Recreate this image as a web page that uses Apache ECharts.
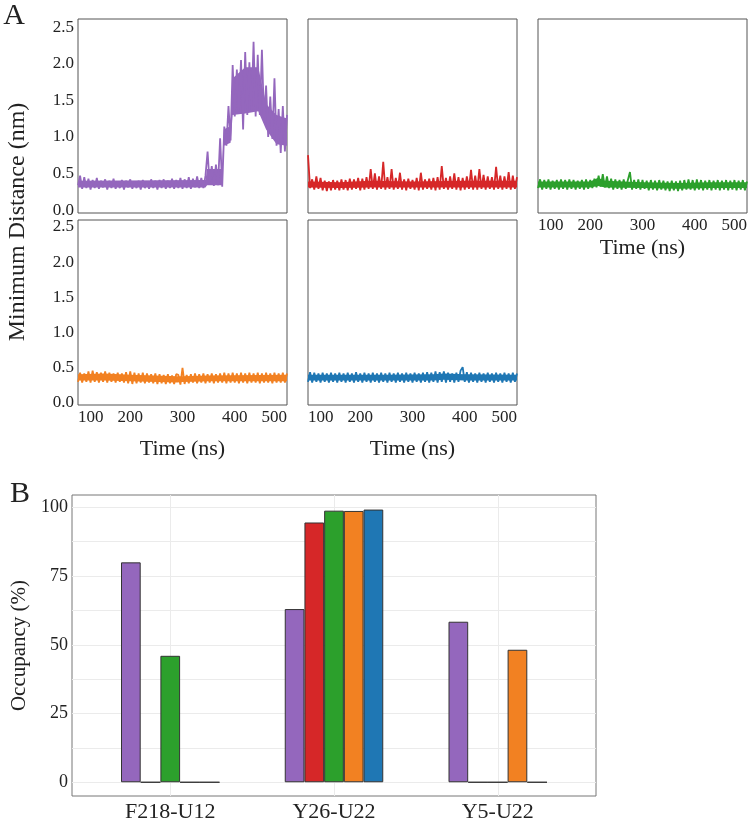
<!DOCTYPE html>
<html>
<head>
<meta charset="utf-8">
<script src="https://cdn.jsdelivr.net/npm/echarts@6/dist/echarts.min.js"></script>
<style>
html,body{margin:0;padding:0;background:#fff;}
#main{width:750px;height:823px;}
</style>
</head>
<body>
<div id="main"></div>
<script>
var FONT = '"Liberation Serif", "DejaVu Serif", serif';

// time axis: 100 - 500 ns, one point every 4 ns
var timeStart = 100, timeStep = 4;
var timeTicks = [100, 200, 300, 400, 500];
var distTicks = [0, 0.5, 1.0, 1.5, 2.0, 2.5];

// minimum distance (nm) (upper / lower edge of the noise)
var distPurple = [
    0.34, 0.47, 0.29, 0.45, 0.30, 0.43, 0.28, 0.41, 0.30, 0.44,
    0.29, 0.40, 0.31, 0.42, 0.28, 0.40, 0.30, 0.43, 0.29, 0.39,
    0.30, 0.41, 0.28, 0.40, 0.31, 0.42, 0.29, 0.39, 0.30, 0.40,
    0.28, 0.41, 0.30, 0.39, 0.29, 0.42, 0.30, 0.40, 0.28, 0.41,
    0.30, 0.42, 0.29, 0.40, 0.30, 0.43, 0.29, 0.41, 0.30, 0.44,
    0.29, 0.42, 0.30, 0.45, 0.29, 0.43, 0.31, 0.46, 0.30, 0.44,
    0.30, 0.47, 0.80, 0.36, 0.60, 0.33, 0.62, 0.34, 0.98, 0.32,
    1.14, 0.88, 1.42, 0.95, 1.98, 1.28, 1.92, 1.35, 2.05, 1.10,
    2.16, 1.30, 2.02, 1.35, 2.30, 1.28, 2.12, 1.30, 2.19, 1.25,
    1.70, 1.00, 1.55, 0.97, 1.80, 0.88, 1.38, 0.78, 1.42, 0.80, 1.30
];
var distRed = [
    0.75, 0.30, 0.42, 0.28, 0.46, 0.29, 0.44, 0.27, 0.40, 0.26,
    0.39, 0.27, 0.41, 0.28, 0.40, 0.27, 0.42, 0.28, 0.41, 0.27,
    0.43, 0.28, 0.42, 0.29, 0.44, 0.27, 0.43, 0.28, 0.45, 0.29,
    0.56, 0.29, 0.50, 0.28, 0.46, 0.29, 0.66, 0.28, 0.45, 0.29,
    0.56, 0.28, 0.44, 0.29, 0.51, 0.28, 0.42, 0.27, 0.43, 0.29,
    0.41, 0.28, 0.44, 0.27, 0.51, 0.28, 0.42, 0.29, 0.43, 0.28,
    0.44, 0.27, 0.45, 0.28, 0.60, 0.29, 0.44, 0.28, 0.46, 0.29,
    0.50, 0.28, 0.45, 0.27, 0.44, 0.28, 0.46, 0.29, 0.55, 0.28,
    0.47, 0.28, 0.56, 0.29, 0.48, 0.28, 0.46, 0.29, 0.45, 0.28,
    0.59, 0.29, 0.47, 0.28, 0.46, 0.29, 0.52, 0.28, 0.47, 0.29, 0.45
];
var distGreen = [
    0.30, 0.42, 0.28, 0.41, 0.29, 0.42, 0.28, 0.40, 0.29, 0.41,
    0.28, 0.42, 0.29, 0.41, 0.28, 0.42, 0.29, 0.41, 0.28, 0.40,
    0.29, 0.41, 0.28, 0.42, 0.29, 0.41, 0.30, 0.43, 0.31, 0.47,
    0.32, 0.49, 0.31, 0.46, 0.30, 0.43, 0.28, 0.42, 0.29, 0.41,
    0.28, 0.42, 0.29, 0.41, 0.52, 0.28, 0.41, 0.29, 0.42, 0.28,
    0.41, 0.29, 0.40, 0.27, 0.41, 0.28, 0.40, 0.27, 0.41, 0.28,
    0.40, 0.27, 0.39, 0.26, 0.40, 0.27, 0.39, 0.26, 0.40, 0.27,
    0.41, 0.28, 0.42, 0.28, 0.41, 0.27, 0.42, 0.28, 0.41, 0.27,
    0.40, 0.28, 0.41, 0.27, 0.40, 0.28, 0.41, 0.27, 0.40, 0.28,
    0.41, 0.27, 0.40, 0.28, 0.41, 0.27, 0.40, 0.28, 0.41, 0.27, 0.39
];
var distOrange = [
    0.29, 0.42, 0.28, 0.41, 0.29, 0.44, 0.28, 0.45, 0.29, 0.43,
    0.28, 0.42, 0.29, 0.44, 0.28, 0.42, 0.29, 0.41, 0.28, 0.42,
    0.29, 0.41, 0.28, 0.43, 0.27, 0.44, 0.26, 0.42, 0.27, 0.41,
    0.28, 0.42, 0.27, 0.41, 0.28, 0.40, 0.27, 0.41, 0.26, 0.40,
    0.27, 0.39, 0.26, 0.40, 0.27, 0.38, 0.26, 0.40, 0.39, 0.25,
    0.49, 0.26, 0.39, 0.27, 0.40, 0.28, 0.41, 0.27, 0.40, 0.28,
    0.41, 0.27, 0.40, 0.28, 0.41, 0.27, 0.40, 0.28, 0.41, 0.28,
    0.42, 0.27, 0.41, 0.28, 0.42, 0.28, 0.41, 0.27, 0.42, 0.28,
    0.41, 0.27, 0.42, 0.28, 0.41, 0.28, 0.42, 0.27, 0.41, 0.28,
    0.42, 0.28, 0.41, 0.27, 0.42, 0.28, 0.41, 0.28, 0.42, 0.28, 0.41
];
var distBlue = [
    0.29, 0.43, 0.28, 0.42, 0.29, 0.41, 0.28, 0.42, 0.29, 0.41,
    0.28, 0.42, 0.29, 0.41, 0.28, 0.42, 0.29, 0.41, 0.28, 0.42,
    0.29, 0.41, 0.28, 0.43, 0.29, 0.41, 0.28, 0.42, 0.29, 0.41,
    0.28, 0.42, 0.29, 0.41, 0.28, 0.42, 0.29, 0.41, 0.28, 0.42,
    0.29, 0.41, 0.28, 0.42, 0.29, 0.41, 0.28, 0.42, 0.29, 0.41,
    0.28, 0.42, 0.29, 0.41, 0.28, 0.42, 0.29, 0.43, 0.28, 0.42,
    0.29, 0.44, 0.28, 0.43, 0.29, 0.44, 0.28, 0.42, 0.29, 0.41,
    0.28, 0.42, 0.29, 0.45, 0.50, 0.29, 0.43, 0.28, 0.42, 0.29,
    0.41, 0.28, 0.42, 0.29, 0.41, 0.28, 0.42, 0.29, 0.41, 0.28,
    0.42, 0.29, 0.41, 0.28, 0.42, 0.29, 0.41, 0.28, 0.42, 0.29, 0.41
];

// dense core of each noisy trace: times (ns), lower and upper value (nm)
var corePurpleT  = [100, 344, 347, 376, 379, 392, 396, 420, 445, 460, 480, 500];
var corePurpleLo = [0.31, 0.31, 0.34, 0.34, 0.88, 0.92, 1.30, 1.32, 1.35, 1.10, 0.90, 0.88];
var corePurpleHi = [0.40, 0.41, 0.56, 0.56, 1.10, 1.15, 1.80, 1.95, 1.95, 1.45, 1.30, 1.25];
var coreRedT  = [100, 160, 220, 300, 400, 500];
var coreRedLo = [0.31, 0.30, 0.31, 0.31, 0.31, 0.31];
var coreRedHi = [0.39, 0.38, 0.40, 0.39, 0.40, 0.40];
var coreGreenT  = [100, 200, 215, 228, 300, 370, 430, 500];
var coreGreenLo = [0.31, 0.31, 0.33, 0.31, 0.30, 0.29, 0.30, 0.30];
var coreGreenHi = [0.39, 0.39, 0.44, 0.40, 0.38, 0.37, 0.38, 0.38];
var coreOrangeT  = [100, 150, 200, 290, 300, 350, 500];
var coreOrangeLo = [0.31, 0.31, 0.30, 0.28, 0.29, 0.30, 0.30];
var coreOrangeHi = [0.40, 0.41, 0.39, 0.37, 0.37, 0.38, 0.39];
var coreBlueT  = [100, 250, 340, 360, 400, 500];
var coreBlueLo = [0.31, 0.31, 0.31, 0.32, 0.31, 0.31];
var coreBlueHi = [0.39, 0.39, 0.40, 0.41, 0.40, 0.39];

// occupancy (%)
var barCategories = ['F218-U12', 'Y26-U22', 'Y5-U22'];
var occPurple = [80, 63, 58.4];
var occRed    = [0, 94.5, 0];
var occGreen  = [46, 98.8, 0];
var occOrange = [0, 98.7, 48.2];
var occBlue   = [0, 99.2, 0];
var occTicks = [0, 25, 50, 75, 100];
var occGridTicks = [0, 12.5, 25, 37.5, 50, 62.5, 75, 87.5, 100];

var C_PURPLE = '#9467bd', C_RED = '#d62728', C_GREEN = '#2ca02c', C_ORANGE = '#f28122', C_BLUE = '#1f77b4';

function toPairs(arr) {
    return arr.map(function (v, i) { return [timeStart + i * timeStep, v]; });
}

// band between lower and upper edge, drawn as one polygon through the axes
function coreRenderer(color) {
    return function (params, api) {
        if (params.dataIndex !== 0) return null;
        var n = params.dataInsideLength, pts = [], k;
        for (k = 0; k < n; k++) pts.push(api.coord([api.value(0, k), api.value(2, k)]));
        for (k = n - 1; k >= 0; k--) pts.push(api.coord([api.value(0, k), api.value(1, k)]));
        return {type: 'polygon', shape: {points: pts}, style: {fill: color}};
    };
}

// 5 small panels of A
var panels = [
    {box: {left: 78,  top: 19,  width: 209, height: 194}, data: distPurple, core: [corePurpleT, corePurpleLo, corePurpleHi], color: C_PURPLE, showX: false, showY: true,  ymax: 2.61},
    {box: {left: 308, top: 19,  width: 209, height: 194}, data: distRed,    core: [coreRedT, coreRedLo, coreRedHi],          color: C_RED,    showX: false, showY: false, ymax: 2.61},
    {box: {left: 538, top: 19,  width: 209, height: 194}, data: distGreen,  core: [coreGreenT, coreGreenLo, coreGreenHi],    color: C_GREEN,  showX: true,  showY: false, ymax: 2.61, nameGap: 24},
    {box: {left: 78,  top: 220, width: 209, height: 185}, data: distOrange, core: [coreOrangeT, coreOrangeLo, coreOrangeHi], color: C_ORANGE, showX: true,  showY: true,  ymax: 2.60, nameGap: 33},
    {box: {left: 308, top: 220, width: 209, height: 185}, data: distBlue,   core: [coreBlueT, coreBlueLo, coreBlueHi],       color: C_BLUE,   showX: true,  showY: false, ymax: 2.60, nameGap: 33}
];

var grids = [], xAxes = [], yAxes = [], series = [];
panels.forEach(function (p, i) {
    grids.push({
        left: p.box.left, top: p.box.top, width: p.box.width, height: p.box.height,
        show: true, borderColor: '#555', borderWidth: 1, backgroundColor: 'transparent'
    });
    xAxes.push({
        gridIndex: i, type: 'value', min: 100, max: 500, interval: 100,
        axisLine: {show: false}, axisTick: {show: false}, splitLine: {show: false},
        axisLabel: {
            show: p.showX, fontFamily: FONT, fontSize: 17, color: '#222', margin: 4,
            alignMinLabel: 'left', alignMaxLabel: 'right'
        },
        name: p.showX ? 'Time (ns)' : '', nameLocation: 'middle', nameGap: p.nameGap || 30,
        nameTextStyle: {fontFamily: FONT, fontSize: 22, color: '#222'}
    });
    yAxes.push({
        gridIndex: i, type: 'value', min: -0.04, max: p.ymax,
        axisLine: {show: false}, axisTick: {show: false}, splitLine: {show: false},
        axisLabel: {
            show: p.showY, customValues: distTicks, fontFamily: FONT, fontSize: 17, color: '#222', margin: 4,
            formatter: function (v) { return v.toFixed(1); }
        }
    });
    var ct = p.core[0], lo = p.core[1], hi = p.core[2];
    series.push({
        type: 'custom', xAxisIndex: i, yAxisIndex: i, silent: true,
        data: ct.map(function (t, k) { return [t, lo[k], hi[k]]; }),
        encode: {x: 0, y: [1, 2]},
        renderItem: coreRenderer(p.color)
    });
    series.push({
        type: 'line', xAxisIndex: i, yAxisIndex: i, data: toPairs(p.data),
        symbol: 'none',
        lineStyle: {color: p.color, width: 1.8}
    });
});

// B: occupancy bars
var barIdx = panels.length;
grids.push({
    left: 72, top: 495, width: 524, height: 303,
    show: true, borderColor: '#777', borderWidth: 1, backgroundColor: 'transparent'
});
xAxes.push({
    gridIndex: barIdx, type: 'value', min: 0.4, max: 3.6,
    axisLine: {show: false},
    axisTick: {show: false, customValues: [1, 2, 3]},
    splitLine: {show: true, lineStyle: {color: '#ebebeb', width: 1}},
    axisLabel: {
        customValues: [1, 2, 3], fontFamily: FONT, fontSize: 22, color: '#222', margin: 5,
        formatter: function (v) { return barCategories[Math.round(v) - 1]; }
    }
});
yAxes.push({
    gridIndex: barIdx, type: 'value', min: -5, max: 104.5,
    axisLine: {show: false},
    axisTick: {show: false, customValues: occGridTicks},
    splitLine: {show: true, lineStyle: {color: '#ebebeb', width: 1}},
    axisLabel: {customValues: occTicks, fontFamily: FONT, fontSize: 18, color: '#222', margin: 4},
    name: 'Occupancy (%)', nameLocation: 'middle', nameGap: 38,
    nameTextStyle: {fontFamily: FONT, fontSize: 21, color: '#222'}
});
[
    [occPurple, C_PURPLE], [occRed, C_RED], [occGreen, C_GREEN], [occOrange, C_ORANGE], [occBlue, C_BLUE]
].forEach(function (s) {
    series.push({
        type: 'bar', xAxisIndex: barIdx, yAxisIndex: barIdx,
        barWidth: 19.7, barGap: '0%',
        data: s[0].map(function (v, k) { return [k + 1, v]; }),
        itemStyle: {color: s[1], borderColor: '#333', borderWidth: 1}
    });
});

var myChart = echarts.init(document.getElementById('main'));
myChart.setOption({
    backgroundColor: '#fff',
    animation: false,
    grid: grids,
    xAxis: xAxes,
    yAxis: yAxes,
    series: series,
    graphic: [
        {type: 'text', x: 14, y: 16, style: {text: 'A', font: '30px ' + FONT, fill: '#222', textAlign: 'center', textVerticalAlign: 'middle'}},
        {type: 'text', x: 20, y: 494, style: {text: 'B', font: '30px ' + FONT, fill: '#222', textAlign: 'center', textVerticalAlign: 'middle'}},
        {type: 'text', x: 18, y: 222, rotation: Math.PI / 2,
            style: {text: 'Minimum Distance (nm)', font: '24px ' + FONT, fill: '#222', textAlign: 'center', textVerticalAlign: 'middle'}}
    ]
});
</script>
</body>
</html>
